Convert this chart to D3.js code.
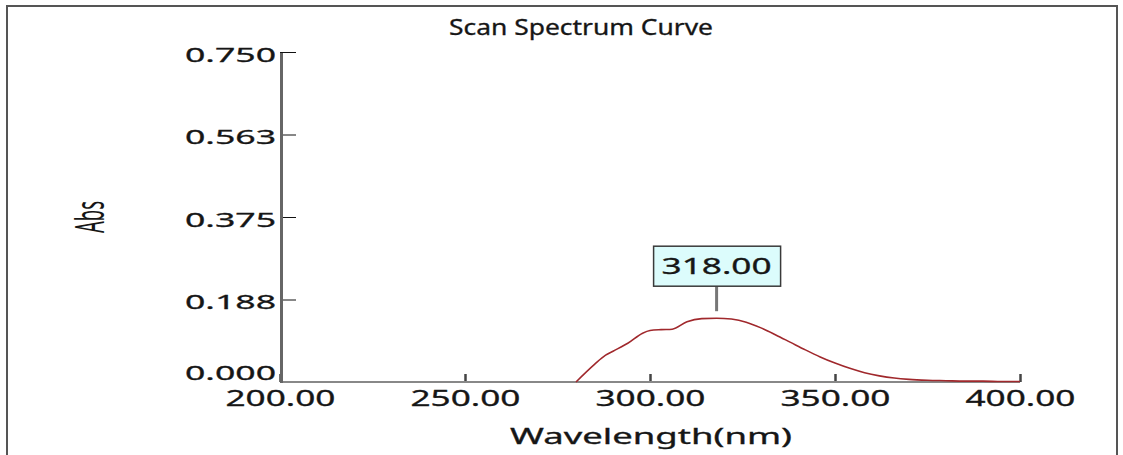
<!DOCTYPE html>
<html>
<head>
<meta charset="utf-8">
<script src="https://cdn.jsdelivr.net/npm/d3@7"></script>
<style>
  body { margin: 0; background: #fff; }
  text { font-family: "Noto Sans", "Open Sans", sans-serif; fill: #161616; }
</style>
</head>
<body>
<svg id="chart" width="1123" height="455"></svg>
<script>
// DATA
const wavelengths = [280, 285, 288, 290, 294, 298, 300, 303, 306, 310, 314, 318, 322, 326, 330, 334, 338, 342, 346, 350, 354, 358, 362, 366, 370, 375, 380, 385, 390, 395, 400];
const absValues   = [0.000, 0.040, 0.061, 0.070, 0.088, 0.111, 0.117, 0.119, 0.120, 0.137, 0.144, 0.145, 0.143, 0.136, 0.123, 0.107, 0.090, 0.073, 0.057, 0.043, 0.031, 0.021, 0.014, 0.009, 0.006, 0.004, 0.003, 0.002, 0.002, 0.001, 0.001];
const xTickValues = [200, 250, 300, 350, 400];
const xTickLabels = ["200.00", "250.00", "300.00", "350.00", "400.00"];
const yTickValues = [0, 0.1875, 0.375, 0.5625, 0.75];
const yTickLabels = ["0.000", "0.188", "0.375", "0.563", "0.750"];
const peakWavelength = 318;
const peakLabel = "318.00";

const data = wavelengths.map((w, i) => ({ w: w, a: absValues[i] }));

const svg = d3.select("#chart");

// frame
svg.append("rect")
  .attr("x", 7).attr("y", 6)
  .attr("width", 1110).attr("height", 470)
  .attr("fill", "none")
  .attr("stroke", "#555")
  .attr("stroke-width", 2);

const x = d3.scaleLinear().domain([200, 400]).range([280, 1020]);
const y = d3.scaleLinear().domain([0, 0.75]).range([382, 52]);

// y axis
const yAxis = d3.axisLeft(y)
  .tickValues(yTickValues)
  .tickFormat((d, i) => yTickLabels[i])
  .tickSize(-16)
  .tickPadding(4);

const yAxisG = svg.append("g").attr("class", "y-axis").attr("transform", "translate(280,0)").call(yAxis);
yAxisG.select(".domain").remove();
yAxisG.selectAll(".tick line").attr("stroke", "#111").attr("stroke-width", 1);
yAxisG.selectAll(".tick text")
  .attr("font-size", 20)
  .attr("textLength", 91)
  .attr("lengthAdjust", "spacingAndGlyphs")
  .attr("fill", "#161616")
  .attr("stroke", "#161616").attr("stroke-width", 0.3)
  .attr("dy", (d) => d === 0 ? "-0.15em" : "0.45em");

// x axis
const xAxis = d3.axisBottom(x)
  .tickValues(xTickValues)
  .tickFormat((d, i) => xTickLabels[i])
  .tickSize(-8)
  .tickPadding(9);

const xAxisG = svg.append("g").attr("class", "x-axis").attr("transform", "translate(0,382)").call(xAxis);
xAxisG.select(".domain").remove();
xAxisG.selectAll(".tick line").attr("stroke", "#444").attr("stroke-width", 2.5);
xAxisG.selectAll(".tick text")
  .attr("font-size", 21)
  .attr("textLength", 110)
  .attr("lengthAdjust", "spacingAndGlyphs")
  .attr("fill", "#161616")
  .attr("stroke", "#161616").attr("stroke-width", 0.3)
  .attr("dy", "0.71em");

// axis lines
svg.append("line")
  .attr("x1", x(200)).attr("x2", x(400))
  .attr("y1", y(0)).attr("y2", y(0))
  .attr("stroke", "#888").attr("stroke-width", 2);
svg.append("line")
  .attr("x1", x(200) + 1.5).attr("x2", x(200) + 1.5)
  .attr("y1", y(0.75) + 1).attr("y2", y(0) + 1)
  .attr("stroke", "#666").attr("stroke-width", 3);

// curve
const line = d3.line()
  .x(d => x(d.w))
  .y(d => y(d.a))
  .curve(d3.curveMonotoneX);

svg.append("path")
  .datum(data)
  .attr("d", line)
  .attr("fill", "none")
  .attr("stroke", "#a0282c")
  .attr("stroke-width", 1.6);

// peak marker
const peakAbs = absValues[wavelengths.indexOf(peakWavelength)];
const px = x(peakWavelength);
const py = y(peakAbs);

svg.append("line")
  .attr("x1", px).attr("x2", px)
  .attr("y1", py - 7).attr("y2", py - 32)
  .attr("stroke", "#777").attr("stroke-width", 3);

svg.append("rect")
  .attr("x", px - 63).attr("y", py - 72)
  .attr("width", 127).attr("height", 40)
  .attr("fill", "#dcfcfc")
  .attr("stroke", "#3a3a3a")
  .attr("stroke-width", 1.5);

svg.append("text")
  .attr("x", px).attr("y", py - 44)
  .attr("text-anchor", "middle")
  .attr("font-size", 21)
  .attr("textLength", 110)
  .attr("lengthAdjust", "spacingAndGlyphs")
  .attr("stroke", "#161616").attr("stroke-width", 0.3)
  .text(peakLabel);

// title
svg.append("text")
  .attr("x", 581).attr("y", 35)
  .attr("text-anchor", "middle")
  .attr("font-size", 21)
  .attr("textLength", 264)
  .attr("lengthAdjust", "spacingAndGlyphs")
  .attr("stroke", "#161616").attr("stroke-width", 0.3)
  .text("Scan Spectrum Curve");

// x label
svg.append("text")
  .attr("x", 651).attr("y", 444)
  .attr("text-anchor", "middle")
  .attr("font-size", 21)
  .attr("textLength", 282)
  .attr("lengthAdjust", "spacingAndGlyphs")
  .attr("stroke", "#161616").attr("stroke-width", 0.3)
  .text("Wavelength(nm)");

// y label
svg.append("text")
  .attr("transform", "translate(104,217) scale(2,1) rotate(-90)")
  .attr("text-anchor", "middle")
  .attr("font-size", 20)
  .attr("textLength", 32)
  .attr("lengthAdjust", "spacingAndGlyphs")
  .text("Abs");
</script>
</body>
</html>
